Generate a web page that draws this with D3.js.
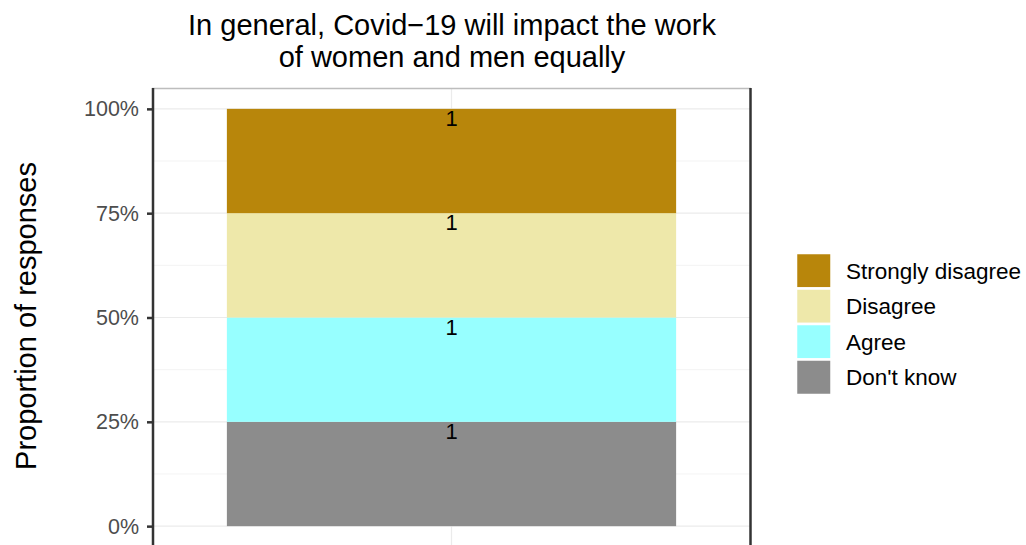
<!DOCTYPE html>
<html>
<head>
<meta charset="utf-8">
<script src="https://cdn.jsdelivr.net/npm/d3@7"></script>
<style>
  html, body { margin: 0; padding: 0; background: #fff; }
  svg { display: block; font-family: "Liberation Sans", Arial, sans-serif; }
</style>
</head>
<body>
<svg id="chart" width="1026" height="545"></svg>
<script>
// Response categories, stacked bottom to top
const categories = ["Don't know", "Agree", "Disagree", "Strongly disagree"];
const counts = [1, 1, 1, 1];
const colors = ["#8c8c8c", "#97ffff", "#eee8aa", "#b8860b"];
const legendOrder = ["Strongly disagree", "Disagree", "Agree", "Don't know"];
const yTicks = [0, 0.25, 0.5, 0.75, 1];
const yMinor = [0.125, 0.375, 0.625, 0.875];
const titleLines = ["In general, Covid\u221219 will impact the work", "of women and men equally"];

const svg = d3.select("#chart");
const panel = { left: 152, right: 751, top: 88, bottom: 547 };

const total = d3.sum(counts);
let acc = 0;
const stacked = categories.map((c, i) => {
  const y0 = acc / total;
  acc += counts[i];
  return { cat: c, n: counts[i], y0, y1: acc / total };
});

// ggplot-style expansion: 5% on y, 0.6 units on a discrete x
const y = d3.scaleLinear().domain([-0.05, 1.05]).range([panel.bottom, panel.top]);
const xl = d3.scaleLinear().domain([0.4, 1.6]).range([panel.left, panel.right]);
const barW = 0.9;

const color = d3.scaleOrdinal().domain(categories).range(colors);

// panel background & grid
const g = svg.append("g");
g.append("rect").attr("x", panel.left).attr("y", panel.top)
  .attr("width", panel.right - panel.left).attr("height", panel.bottom - panel.top)
  .attr("fill", "#fff");
g.selectAll(".minor").data(yMinor).join("line")
  .attr("x1", panel.left).attr("x2", panel.right)
  .attr("y1", d => y(d)).attr("y2", d => y(d))
  .attr("stroke", "#ebebeb").attr("stroke-width", 0.6);
g.selectAll(".major").data(yTicks).join("line")
  .attr("x1", panel.left).attr("x2", panel.right)
  .attr("y1", d => y(d)).attr("y2", d => y(d))
  .attr("stroke", "#ebebeb").attr("stroke-width", 1.2);
g.append("line")
  .attr("x1", xl(1)).attr("x2", xl(1))
  .attr("y1", panel.top).attr("y2", panel.bottom)
  .attr("stroke", "#ebebeb").attr("stroke-width", 1.2);

// bars
g.selectAll(".bar").data(stacked).join("rect")
  .attr("x", xl(1 - barW / 2))
  .attr("width", xl(1 + barW / 2) - xl(1 - barW / 2))
  .attr("y", d => y(d.y1))
  .attr("height", d => y(d.y0) - y(d.y1))
  .attr("fill", d => color(d.cat));

// count labels at the top of each segment
g.selectAll(".lab").data(stacked).join("text")
  .attr("x", xl(1))
  .attr("y", d => y(d.y1) + 17)
  .attr("text-anchor", "middle")
  .attr("font-size", 22)
  .attr("fill", "#000")
  .text(d => d.n);

// panel border: top light, sides dark
g.append("line").attr("x1", panel.left).attr("x2", panel.right)
  .attr("y1", panel.top + 0.5).attr("y2", panel.top + 0.5)
  .attr("stroke", "#bdbdbd").attr("stroke-width", 1.5);
g.append("line").attr("x1", panel.right - 0.5).attr("x2", panel.right - 0.5)
  .attr("y1", panel.top).attr("y2", panel.bottom)
  .attr("stroke", "#333").attr("stroke-width", 2.5);

// y axis
const yAxis = d3.axisLeft(y).tickValues(yTicks)
  .tickFormat(d3.format(".0%")).tickSize(6).tickPadding(8);
const ya = svg.append("g").attr("transform", `translate(${panel.left + 1},0)`).call(yAxis);
ya.select(".domain").attr("stroke", "#333").attr("stroke-width", 2.5)
  .attr("d", `M0,${panel.top}V${panel.bottom}`);
ya.selectAll(".tick line").attr("stroke", "#333").attr("stroke-width", 2.5);
ya.selectAll(".tick text").attr("fill", "#4d4d4d").attr("font-size", 21.5)
  .attr("font-family", "Liberation Sans, Arial, sans-serif");

// axis title
svg.append("text")
  .attr("transform", `translate(36,316) rotate(-90)`)
  .attr("text-anchor", "middle")
  .attr("font-size", 29)
  .attr("fill", "#000")
  .text("Proportion of responses");

// title
svg.append("g").selectAll("text").data(titleLines).join("text")
  .attr("x", 452)
  .attr("y", (d, i) => 35 + i * 32)
  .attr("text-anchor", "middle")
  .attr("font-size", 29)
  .attr("fill", "#000")
  .text(d => d);

// legend
const leg = svg.append("g").attr("transform", "translate(796,253)");
const keySize = 35.5;
leg.selectAll("rect").data(legendOrder).join("rect")
  .attr("x", 0).attr("y", (d, i) => i * keySize)
  .attr("width", keySize).attr("height", keySize)
  .attr("fill", d => color(d))
  .attr("stroke", "#fff").attr("stroke-width", 2.5);
leg.selectAll("text").data(legendOrder).join("text")
  .attr("x", 50).attr("y", (d, i) => i * keySize + keySize / 2 + 8)
  .attr("font-size", 22.5)
  .attr("fill", "#000")
  .text(d => d);
</script>
</body>
</html>
